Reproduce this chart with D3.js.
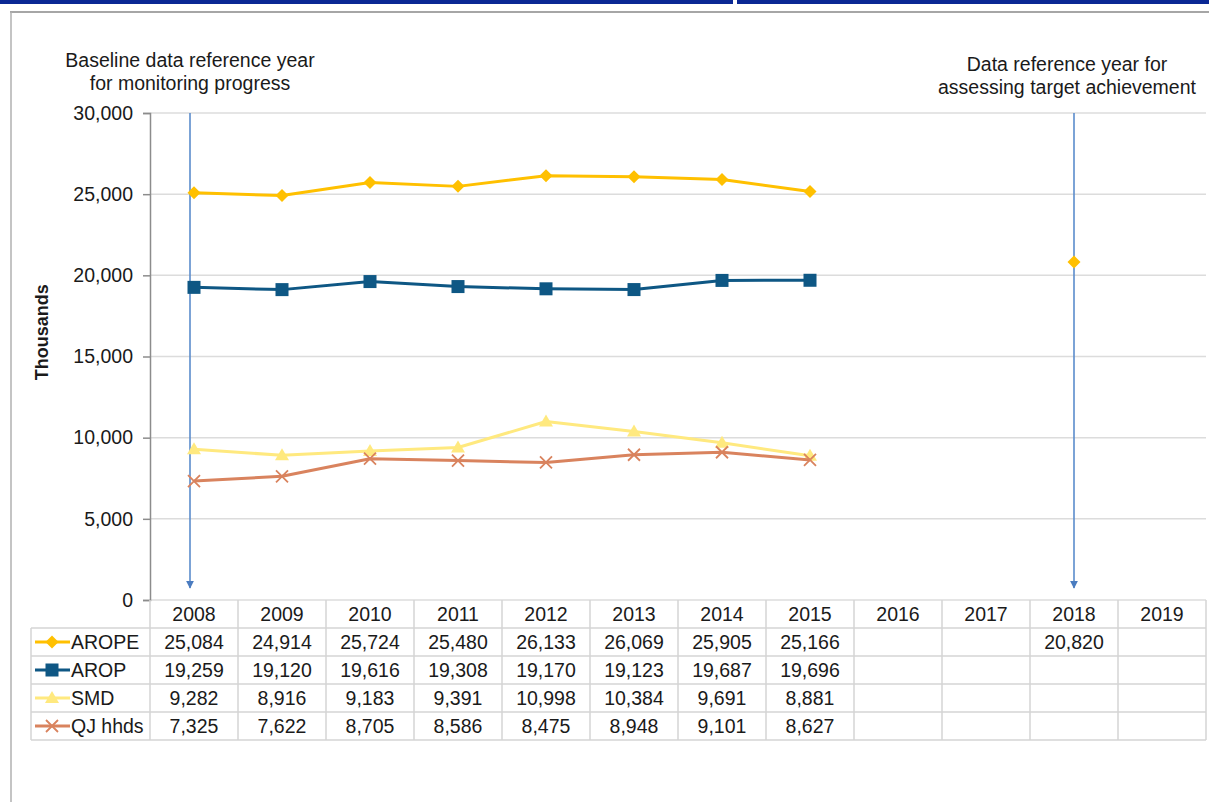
<!DOCTYPE html>
<html>
<head>
<meta charset="utf-8">
<style>
body { margin: 0; background: #ffffff; }
text { font-family: "Liberation Sans", Arial, sans-serif; fill: #1a1a1a; }
.tick-label { font-size: 19.5px; }
.cell { font-size: 19.5px; }
.note { font-size: 19.5px; }
</style>
<script src="https://d3js.org/d3.v7.min.js"></script>
</head>
<body>
<script>

var years   = ["2008","2009","2010","2011","2012","2013","2014","2015","2016","2017","2018","2019"];
var arope   = [25084, 24914, 25724, 25480, 26133, 26069, 25905, 25166, null, null, 20820, null];
var arop    = [19259, 19120, 19616, 19308, 19170, 19123, 19687, 19696, null, null, null, null];
var smd     = [9282, 8916, 9183, 9391, 10998, 10384, 9691, 8881, null, null, null, null];
var qj      = [7325, 7622, 8705, 8586, 8475, 8948, 9101, 8627, null, null, null, null];
var names   = ["AROPE", "AROP", "SMD", "QJ hhds"];
var yTicks  = [0, 5000, 10000, 15000, 20000, 25000, 30000];
var refYears = ["2008", "2018"];

var series = [
  { name: names[0], values: arope, color: "#ffc000", marker: "diamond" },
  { name: names[1], values: arop,  color: "#0e5784", marker: "square" },
  { name: names[2], values: smd,   color: "#ffe97f", marker: "triangle" },
  { name: names[3], values: qj,    color: "#d9835e", marker: "cross" }
];

var width = 1209, height = 802;
var svg = d3.select("body").append("svg")
    .attr("width", width)
    .attr("height", height);

// page furniture: navy banner and frame
svg.append("rect").attr("x", 0).attr("y", 0).attr("width", 733).attr("height", 4).attr("fill", "#0a2894");
svg.append("rect").attr("x", 737).attr("y", 0).attr("width", 472).attr("height", 4).attr("fill", "#0a2894");
svg.append("line").attr("x1", 10).attr("y1", 12).attr("x2", 1209).attr("y2", 12)
    .attr("stroke", "#a6a6a6").attr("stroke-width", 2);
svg.append("line").attr("x1", 11).attr("y1", 12).attr("x2", 11).attr("y2", 802)
    .attr("stroke", "#b0b0b0").attr("stroke-width", 1.5);

var x = d3.scaleBand().domain(years).range([150, 1206]).padding(0);
var y = d3.scaleLinear().domain([0, 30000]).range([600, 113]);
var bw = x.bandwidth();
var cx = function(yr) { return x(yr) + bw / 2; };

// gridlines
svg.append("g").selectAll("line")
  .data(yTicks)
  .enter().append("line")
  .attr("x1", 150).attr("x2", 1206)
  .attr("y1", function(d) { return y(d); })
  .attr("y2", function(d) { return y(d); })
  .attr("stroke", "#dcdcdc").attr("stroke-width", 1.5);

// y axis
var yAxis = d3.axisLeft(y).tickValues(yTicks).tickSize(7).tickPadding(10)
    .tickFormat(d3.format(","));
var ga = svg.append("g").attr("transform", "translate(150,0)").call(yAxis);
ga.select(".domain").attr("stroke", "#8c8c8c").attr("stroke-width", 1.5);
ga.selectAll(".tick line").attr("stroke", "#8c8c8c").attr("stroke-width", 1.5);
ga.selectAll(".tick text").attr("class", "tick-label").attr("font-size", null).attr("font-family", null);

svg.append("text")
  .attr("transform", "translate(48," + (y(16500)) + ") rotate(-90)")
  .attr("text-anchor", "middle")
  .style("font-size", "18px").style("font-weight", "bold")
  .text("Thousands");

// reference-year arrows
svg.append("defs").append("marker")
  .attr("id", "arrow").attr("viewBox", "0 0 10 10")
  .attr("refX", 9).attr("refY", 5)
  .attr("markerWidth", 5).attr("markerHeight", 5)
  .attr("orient", "auto")
  .append("path").attr("d", "M0,0 L10,5 L0,10 z").attr("fill", "#4a7cc0");

svg.append("g").selectAll("line")
  .data(refYears)
  .enter().append("line")
  .attr("x1", function(d, i) { return cx(d) - (i === 0 ? 4 : 0); })
  .attr("x2", function(d, i) { return cx(d) - (i === 0 ? 4 : 0); })
  .attr("y1", y(30000))
  .attr("y2", y(0) - 12)
  .attr("stroke", "#5b8ccc").attr("stroke-width", 1.6)
  .attr("marker-end", "url(#arrow)");

var notes = [
  { year: "2008", dx: -4, dy: 0, lines: ["Baseline data reference year", "for monitoring progress"] },
  { year: "2018", dx: -7, dy: 4, lines: ["Data reference year for", "assessing target achievement"] }
];
notes.forEach(function(n) {
  n.lines.forEach(function(t, i) {
    svg.append("text").attr("class", "note")
      .attr("x", cx(n.year) + n.dx)
      .attr("y", 67 + n.dy + i * 23)
      .attr("text-anchor", "middle")
      .text(t);
  });
});

// markers
function drawMarker(g, type, color, px, py) {
  if (type === "diamond") {
    g.append("path").attr("d", "M" + px + "," + (py - 6.5) + " L" + (px + 6.5) + "," + py +
      " L" + px + "," + (py + 6.5) + " L" + (px - 6.5) + "," + py + "Z").attr("fill", color);
  } else if (type === "square") {
    g.append("rect").attr("x", px - 6.5).attr("y", py - 6.5).attr("width", 13).attr("height", 13).attr("fill", color);
  } else if (type === "triangle") {
    g.append("path").attr("d", "M" + px + "," + (py - 7) + " L" + (px + 7) + "," + (py + 5) +
      " L" + (px - 7) + "," + (py + 5) + "Z").attr("fill", color);
  } else {
    g.append("path").attr("d", "M" + (px - 6) + "," + (py - 6) + " L" + (px + 6) + "," + (py + 6) +
      " M" + (px + 6) + "," + (py - 6) + " L" + (px - 6) + "," + (py + 6))
      .attr("stroke", color).attr("stroke-width", 1.8).attr("fill", "none");
  }
}

var line = d3.line()
  .defined(function(d) { return d.v != null; })
  .x(function(d) { return cx(d.yr); })
  .y(function(d) { return y(d.v); });

series.forEach(function(s) {
  var pts = years.map(function(yr, i) { return { yr: yr, v: s.values[i] }; });
  var g = svg.append("g");
  g.append("path").datum(pts)
    .attr("d", line)
    .attr("fill", "none")
    .attr("stroke", s.color)
    .attr("stroke-width", 3)
    .attr("stroke-linejoin", "round");
  pts.forEach(function(p) {
    if (p.v != null) drawMarker(g, s.marker, s.color, cx(p.yr), y(p.v));
  });
});

// data table
var rowH = 28;
var tableTop = y(0);
var tableBottom = tableTop + rowH * (series.length + 1);
var grid = "#d4d4d4";
var tg = svg.append("g");

// header
years.forEach(function(yr) {
  tg.append("text").attr("class", "cell")
    .attr("x", cx(yr)).attr("y", tableTop + 21)
    .attr("text-anchor", "middle").text(yr);
});

// horizontal lines
for (var r = 1; r <= series.length + 1; r++) {
  tg.append("line").attr("x1", 31).attr("x2", 1206)
    .attr("y1", tableTop + r * rowH).attr("y2", tableTop + r * rowH)
    .attr("stroke", grid).attr("stroke-width", 1.5);
}
// vertical lines
years.concat(["end"]).forEach(function(yr, i) {
  var xx = i < years.length ? x(yr) : 1206;
  tg.append("line").attr("x1", xx).attr("x2", xx)
    .attr("y1", tableTop).attr("y2", tableBottom)
    .attr("stroke", grid).attr("stroke-width", 1.5);
});
tg.append("line").attr("x1", 31).attr("x2", 31)
  .attr("y1", tableTop + rowH).attr("y2", tableBottom)
  .attr("stroke", grid).attr("stroke-width", 1.5);

series.forEach(function(s, r) {
  var ry = tableTop + (r + 1) * rowH;
  var my = ry + rowH / 2;
  tg.append("line").attr("x1", 35).attr("x2", 70).attr("y1", my).attr("y2", my)
    .attr("stroke", s.color).attr("stroke-width", 3);
  drawMarker(tg, s.marker, s.color, 52, my);
  tg.append("text").attr("class", "cell")
    .attr("x", 71).attr("y", ry + 21).text(s.name);
  s.values.forEach(function(v, i) {
    if (v == null) return;
    tg.append("text").attr("class", "cell")
      .attr("x", cx(years[i])).attr("y", ry + 21)
      .attr("text-anchor", "middle")
      .text(d3.format(",")(v));
  });
});

</script>
</body>
</html>
